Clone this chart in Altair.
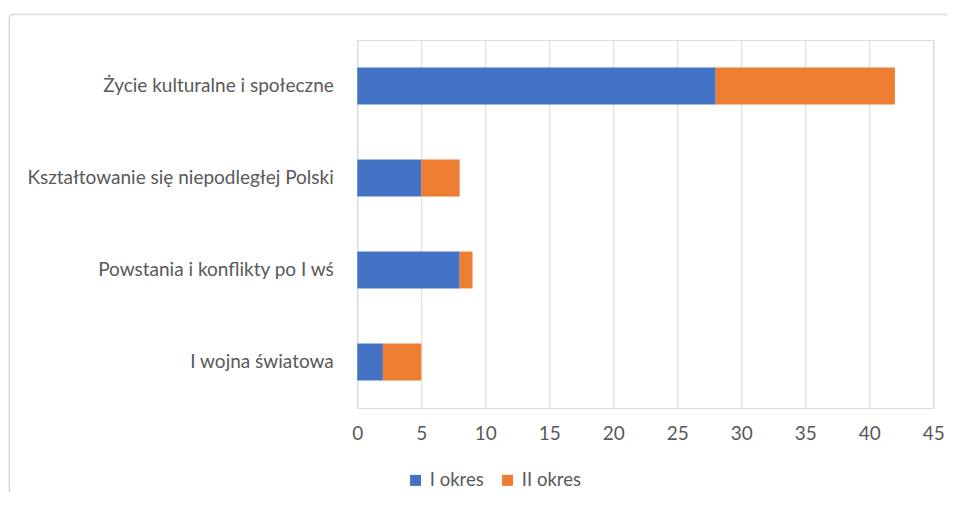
import altair as alt
import pandas as pd

categories = [
    "Życie kulturalne i społeczne",
    "Kształtowanie się niepodległej Polski",
    "Powstania i konflikty po I wś",
    "I wojna światowa",
]
series_names = ["I okres", "II okres"]
okres_1 = [28, 5, 8, 2]
okres_2 = [14, 3, 1, 3]
x_ticks = [0, 5, 10, 15, 20, 25, 30, 35, 40, 45]
colors = ["#4472C4", "#ED7D31"]

rows = []
for c, a, b in zip(categories, okres_1, okres_2):
    rows.append({"kategoria": c, "okres": series_names[0], "wartosc": a, "ord": 0})
    rows.append({"kategoria": c, "okres": series_names[1], "wartosc": b, "ord": 1})
df = pd.DataFrame(rows)

FONT = "Lato"
FS = 19
TXT = "#595959"

bars = alt.Chart(df).mark_bar().encode(
    y=alt.Y(
        "kategoria:N",
        sort=categories,
        title=None,
        scale=alt.Scale(paddingInner=0.6, paddingOuter=0.3),
        axis=alt.Axis(
            domain=False, ticks=False, tickSize=0, grid=False,
            labelPadding=24, labelFont=FONT, labelFontSize=FS,
            labelColor=TXT, labelLimit=400,
        ),
    ),
    x=alt.X(
        "wartosc:Q",
        stack="zero",
        title=None,
        scale=alt.Scale(domain=[0, 45], nice=False),
        axis=alt.Axis(
            values=x_ticks, domain=False, ticks=False, tickSize=0,
            grid=True, gridColor="#d9d9d9", gridWidth=1,
            labelPadding=16, labelFont=FONT, labelFontSize=FS,
            labelColor=TXT, labelFlush=False, labelOverlap=False,
        ),
    ),
    color=alt.Color(
        "okres:N",
        scale=alt.Scale(domain=series_names, range=colors),
        legend=alt.Legend(
            title=None, orient="none", direction="horizontal",
            legendX=49, legendY=431, symbolType="square", symbolSize=121,
            symbolStrokeWidth=0, labelFont=FONT, labelFontSize=18.5,
            labelColor=TXT, labelOffset=5, columnPadding=14,
        ),
    ),
    order=alt.Order("ord:Q"),
)

frame = alt.Chart(pd.DataFrame({"f": [0]})).mark_rect(
    fill=None, stroke="#d9d9d9", strokeWidth=1.5, cornerRadius=4
).encode(
    x=alt.value(-348), x2=alt.value(800),
    y=alt.value(-25.5), y2=alt.value(700),
)

chart = alt.layer(frame, bars).properties(
    width=576,
    height=368,
    autosize=alt.AutoSizeParams(type="none"),
    padding={"left": 349.3, "top": 32, "right": 13.7, "bottom": 84},
).configure_view(stroke=None).configure(background="white")

chart.save("out.html", embed_options={"renderer": "svg", "actions": False})
